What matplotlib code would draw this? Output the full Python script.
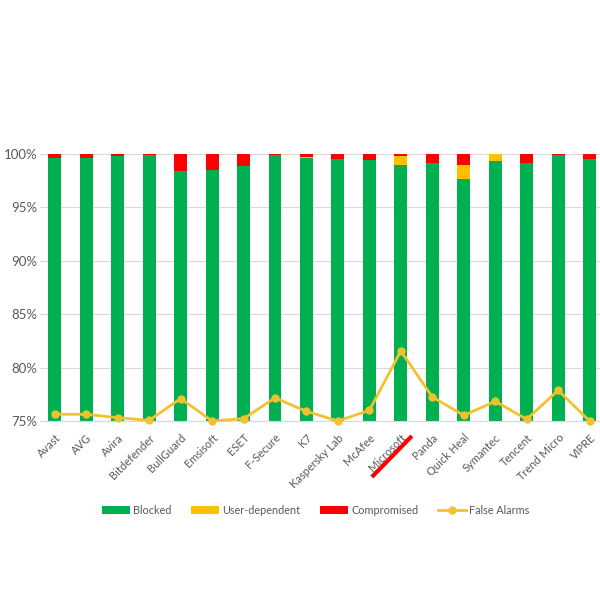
import matplotlib
matplotlib.use("Agg")
import matplotlib.pyplot as plt
import matplotlib.transforms as mtransforms
from matplotlib.lines import Line2D
import numpy as np

vendors = ["Avast", "AVG", "Avira", "Bitdefender", "BullGuard", "Emsisoft", "ESET",
           "F-Secure", "K7", "Kaspersky Lab", "McAfee", "Microsoft", "Panda",
           "Quick Heal", "Symantec", "Tencent", "Trend Micro", "VIPRE"]
blocked = [99.6, 99.6, 99.85, 99.9, 98.45, 98.5, 98.9, 99.9, 99.65, 99.5, 99.4,
           99.0, 99.2, 97.7, 99.3, 99.2, 99.9, 99.5]
user_dependent = [0.0, 0.0, 0.0, 0.0, 0.0, 0.0, 0.0, 0.0, 0.1, 0.0, 0.0,
                  0.8, 0.0, 1.3, 0.7, 0.0, 0.0, 0.0]
compromised = [0.4, 0.4, 0.15, 0.1, 1.55, 1.5, 1.1, 0.1, 0.25, 0.5, 0.6,
               0.2, 0.8, 1.0, 0.0, 0.8, 0.1, 0.5]
# false alarms, expressed in the chart's vertical scale
false_alarms = [75.63, 75.63, 75.31, 75.06, 77.1, 75.0, 75.22, 77.16, 75.9, 75.0,
                76.0, 81.56, 77.25, 75.53, 76.84, 75.16, 77.87, 75.0]
yticks = [75, 80, 85, 90, 95, 100]
ytick_labels = ["75%", "80%", "85%", "90%", "95%", "100%"]

plt.rcParams['font.family'] = ['Lato', 'DejaVu Sans']
txt = "#595959"
GREEN, YELLOW, RED, LINE = "#00B050", "#FFC000", "#FF0000", "#F2C12E"

fig = plt.figure(figsize=(6, 6), dpi=100)
ax = fig.add_axes([40/600, 179/600, 560/600, 267/600])

x = np.arange(len(vendors))
w = 0.41
b = np.array(blocked)
u = np.array(user_dependent)
c = np.array(compromised)
ax.bar(x, b - 75, bottom=75, width=w, color=GREEN, label="Blocked", zorder=2)
ax.bar(x, u, bottom=b, width=w, color=YELLOW, label="User-dependent", zorder=2)
ax.bar(x, c, bottom=b + u, width=w, color=RED, label="Compromised", zorder=2)
ax.plot(x, false_alarms, color=LINE, lw=2, marker='o', ms=5, label="False Alarms",
        zorder=3, clip_on=False)

ax.set_xlim(-0.47, 17.33)
ax.set_ylim(75, 100)
ax.set_yticks(yticks)
ax.set_yticklabels(ytick_labels, color=txt, fontsize=9.5)
ax.yaxis.grid(True, color="#D9D9D9", lw=0.8, zorder=0)
ax.set_axisbelow(True)
for s in ["top", "right", "left"]:
    ax.spines[s].set_visible(False)
ax.spines["bottom"].set_color("#D9D9D9")
ax.tick_params(axis='both', length=0, pad=2)
ax.set_xticks(x)
ax.set_xticklabels(vendors, rotation=45, ha='right', rotation_mode='anchor',
                   color=txt, fontsize=8)
ax.tick_params(axis='x', pad=8)

# red strike under the Microsoft label
mi = vendors.index("Microsoft")
trans = mtransforms.blended_transform_factory(ax.transData, ax.transAxes)
p0 = trans.transform((mi, 0))
line = Line2D([p0[0] - 29, p0[0] + 11], [p0[1] - 56, p0[1] - 15],
              transform=None, color=RED, lw=3, solid_capstyle='butt')
fig.add_artist(line)

h, l = ax.get_legend_handles_labels()
handles = [h[1], h[2], h[3], h[0]]
labels = [l[1], l[2], l[3], l[0]]
leg = fig.legend(handles, labels, loc='center', bbox_to_anchor=(0.526, 0.15), ncol=4,
                 frameon=False, fontsize=7.8, handlelength=2.6, handleheight=0.75,
                 columnspacing=1.8, handletextpad=0.3)
for t in leg.get_texts():
    t.set_color(txt)

fig.savefig("out.png", dpi=100, facecolor="white")
